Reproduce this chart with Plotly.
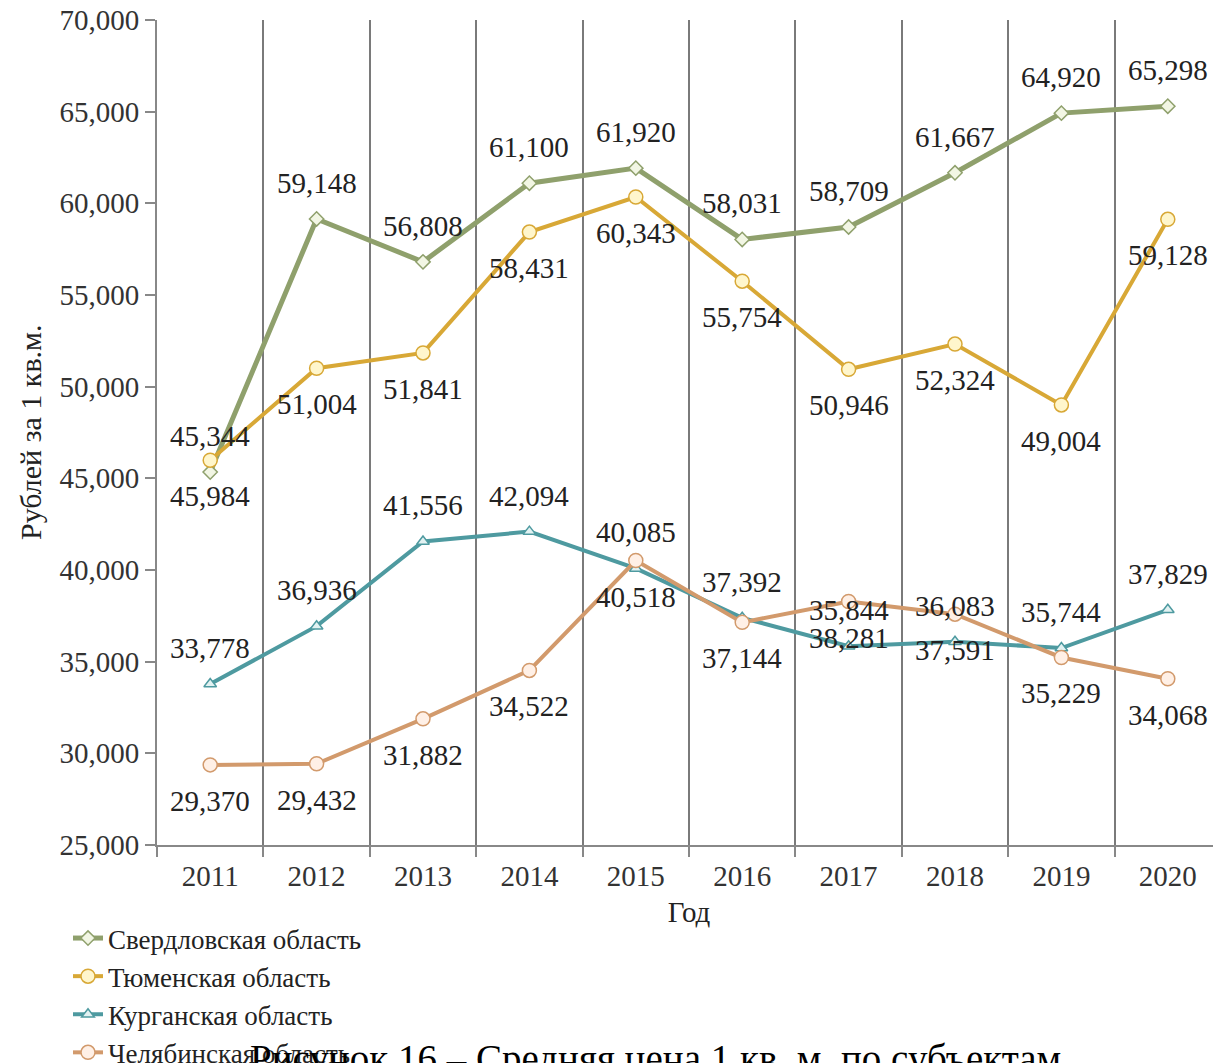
import plotly.graph_objects as go

years = ["2011", "2012", "2013", "2014", "2015", "2016", "2017", "2018", "2019", "2020"]
sverdlovsk = [45344, 59148, 56808, 61100, 61920, 58031, 58709, 61667, 64920, 65298]
tyumen = [45984, 51004, 51841, 58431, 60343, 55754, 50946, 52324, 49004, 59128]
kurgan = [33778, 36936, 41556, 42094, 40085, 37392, 35844, 36083, 35744, 37829]
chelyabinsk = [29370, 29432, 31882, 34522, 40518, 37144, 38281, 37591, 35229, 34068]

series = [
    ("Свердловская область", sverdlovsk, "#8FA06C", "#F2F6E4", "diamond", 11, 5, 1),
    ("Тюменская область", tyumen, "#D8A836", "#FFF6CC", "circle", 14, 4, -1),
    ("Курганская область", kurgan, "#4E9AA0", "#E2F2F2", "triangle-up", 11, 4, 1),
    ("Челябинская область", chelyabinsk, "#D29A6C", "#FFF0E6", "circle", 14, 4, -1),
]

FONT = "Liberation Serif"
OFF = 8  # page body margin
W, H = 1221 - OFF, 1063 - OFF
L, T, B = 157 - OFF, 20 - OFF, 218
PW, PH = W - L, H - T - B


def px_x(page_x):
    return (page_x - OFF - L) / PW


def px_y(page_y):
    return 1 - (page_y - OFF - T) / PH


fig = go.Figure()
annotations = []
for name, vals, col, fill, sym, msize, lw, side in series:
    fig.add_trace(go.Scatter(
        x=years, y=vals, name=name, mode="lines+markers",
        line=dict(color=col, width=lw),
        marker=dict(symbol=sym, size=msize, color=fill, line=dict(color=col, width=1.5)),
    ))
    for i, yv in enumerate(vals):
        annotations.append(dict(
            x=i, y=yv, xref="x", yref="y", text=f"{yv:,}", showarrow=False,
            yshift=36 * side, font=dict(family=FONT, size=29, color="#222"),
        ))

annotations.append(dict(
    x=px_x(248), y=px_y(1059), xref="paper", yref="paper",
    xanchor="left", yanchor="middle", showarrow=False,
    text="Рисунок 16 – Средняя цена 1 кв. м. по субъектам",
    font=dict(family=FONT, size=39, color="#000"),
))
annotations.append(dict(
    x=px_x(30), y=px_y(432), xref="paper", yref="paper",
    xanchor="center", yanchor="middle", showarrow=False, textangle=-90,
    text="Рублей за 1 кв.м.",
    font=dict(family=FONT, size=30, color="#222"),
))

fig.update_layout(
    width=W, height=H,
    margin=dict(l=L, r=0, t=T, b=B, autoexpand=False),
    paper_bgcolor="white", plot_bgcolor="white",
    font=dict(family=FONT, size=29, color="#333"),
    annotations=annotations,
    legend=dict(
        x=(60 - L) / PW, y=px_y(914), xanchor="left", yanchor="top",
        orientation="v", font=dict(family=FONT, size=27, color="#222"),
        bgcolor="rgba(0,0,0,0)", tracegroupgap=0, itemwidth=30,
    ),
    xaxis=dict(
        type="category", range=[-0.5, 9.5], tickson="boundaries", automargin=False,
        showgrid=True, gridcolor="#7a7a7a", gridwidth=2,
        showline=True, linecolor="#888", linewidth=2,
        ticks="outside", ticklen=10, tickcolor="#888", tickwidth=2,
        ticklabelstandoff=4, ticklabeloverflow="allow",
        tickfont=dict(family=FONT, size=29, color="#333"),
        title=dict(text="Год", font=dict(family=FONT, size=29, color="#222"), standoff=11),
    ),
    yaxis=dict(
        range=[25000, 70000], dtick=5000, tickformat=",d", automargin=False,
        showgrid=False, zeroline=False, ticklabeloverflow="allow",
        showline=True, linecolor="#888", linewidth=2,
        ticks="outside", ticklen=10, tickcolor="#888", tickwidth=2,
        tickfont=dict(family=FONT, size=29, color="#333"),
    ),
)

fig.write_html("out.html")
